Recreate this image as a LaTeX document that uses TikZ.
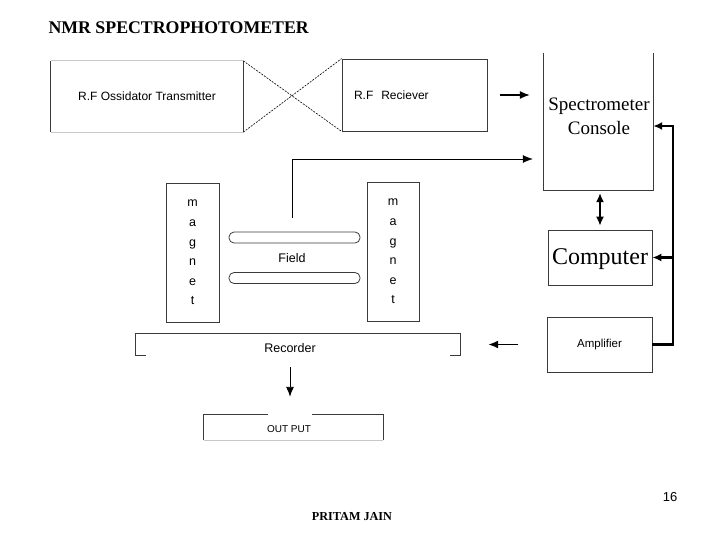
\documentclass[tikz,border=0pt]{standalone}
\usepackage{fontspec}
\setmainfont{Liberation Serif}
\setsansfont{Liberation Sans}
\usetikzlibrary{arrows.meta,positioning,calc}
\definecolor{boxline}{HTML}{3A3A3A}
\definecolor{edgegrey}{HTML}{C8C8C8}

\begin{document}
\begin{tikzpicture}[x=1pt,y=-1pt,
  bx/.style={draw=boxline,line width=0.8pt,inner sep=0pt},
  open/.style={inner sep=0pt},
  sf/.style={font=\sffamily\fontsize{#1}{#1}\selectfont},
  rm/.style 2 args={font=\rmfamily\fontsize{#1}{#2}\selectfont},
  ar/.style={-{Latex[length=10pt,width=8pt]},line width=1.3pt},
  fb/.style={-{Latex[length=9pt,width=8pt]},line width=2.6pt},
  tube/.style={draw=boxline,line width=0.8pt,rounded corners=5pt,
               minimum width=131pt,minimum height=11pt},
  mag/.style={bx,align=center,font=\sffamily\fontsize{12.5}{19.6}\selectfont,
              minimum height=139pt}
]
\useasboundingbox (0,0) rectangle (720,540);

% title and footer
\node[font=\rmfamily\bfseries\fontsize{17.8}{20}\selectfont,anchor=west] (title) at (45,28) {NMR SPECTROPHOTOMETER};
\node[font=\rmfamily\bfseries\fontsize{12.2}{14}\selectfont] (author) at (352,517) {PRITAM JAIN};
\node[sf=13] (page) at (670,497) {16};

% rf part
\node[open,sf=12,minimum width=192pt,minimum height=71pt] (tx) at (147,96.5) {R.F Ossidator Transmitter};
\draw[boxline,line width=0.8pt] (tx.north west) -- (tx.south west) (tx.north east) -- (tx.south east);
\draw[edgegrey,line width=0.8pt] (tx.north west) -- (tx.north east) (tx.south west) -- (tx.south east);
\node[bx,sf=12,text width=121pt,inner xsep=12pt,align=left,minimum height=72pt] (rx) at (414.5,95) {R.F\ \ Reciever};
\draw[dash pattern=on 2pt off 1.2pt,line width=0.6pt] (tx.north east) -- (rx.south west);
\draw[dash pattern=on 2pt off 1.2pt,line width=0.6pt] (tx.south east) -- (rx.north west);

% console, computer, amplifier
\node[open,minimum width=109pt,minimum height=137pt] (con) at (598.5,121.5) {};
\draw[boxline,line width=0.8pt] (con.north west) -- (con.south west) -- (con.south east) -- (con.north east);
\node[rm={19}{24},align=center,inner sep=0pt] (contxt) at (599,116) {Spectrometer\\Console};
\node[bx,rm={24}{28},minimum width=104pt,minimum height=55pt,text depth=1pt] (cmp) at (600,257.5) {Computer};
\node[bx,sf=11.5,minimum width=105pt,minimum height=55pt] (amp) at (599.5,344.5) {Amplifier};

% magnets and field
\node[mag,minimum width=53pt] (magl) at (192.5,252.5) {m\\a\\g\\n\\e\\t};
\node[mag,minimum width=52pt] (magr) at (393,251.5) {m\\a\\g\\n\\e\\t};
\node[tube] (tubeup) at (294.5,237.5) {};
\node[tube] (tubelow) at (294.5,278) {};
\node[sf=12.5] (field) at (292,258) {Field};
\coordinate (probe) at (292,218);

% recorder and output
\node[open,minimum width=324pt,minimum height=21pt] (rec) at (298,344.5) {};
\draw[boxline,line width=0.8pt] ([xshift=10pt]rec.south west) -- (rec.south west) -- (rec.north west)
  -- (rec.north east) -- (rec.south east) -- ([xshift=-10pt]rec.south east);
\node[sf=12.5] (rectxt) at (290,348) {Recorder};
\node[open,minimum width=179pt,minimum height=25pt] (out) at (293.5,427.5) {};
\node[sf=10] (outtxt) at (289,429.5) {OUT PUT};
\draw[boxline,line width=0.8pt] (out.north -| 268,0) -- (out.north west) -- (out.south west);
\draw[boxline,line width=0.8pt] (out.north -| 312,0) -- (out.north east) -- (out.south east);
\draw[edgegrey,line width=0.8pt] (out.south west) -- (out.south east);

% connectors
\draw[ar,shorten <=13pt,shorten >=14pt] (rx.east) -- (rx.east -| con.west);
\draw[ar,line width=0.7pt,shorten >=11pt] (probe) |- ($(con.west)+(0,37.5)$);
\draw[{Latex[length=9pt,width=8pt]}-{Latex[length=9pt,width=8pt]},line width=1.4pt,shorten <=3pt,shorten >=4pt]
  (cmp.north |- con.south) -- (cmp.north);
\coordinate (bus) at (673,126);
\draw[fb] (amp.east) -| (bus) -- (bus -| con.east);
\draw[fb] (cmp.east -| bus) -- (cmp.east);
\draw[ar,line width=1.6pt,shorten <=29pt,shorten >=28pt] (amp.west) -- (amp.west -| rec.east);
\draw[ar,line width=0.9pt,shorten <=12pt,shorten >=18pt] (rec.south -| 290,0) -- (out.north -| 290,0);
\end{tikzpicture}
\end{document}
